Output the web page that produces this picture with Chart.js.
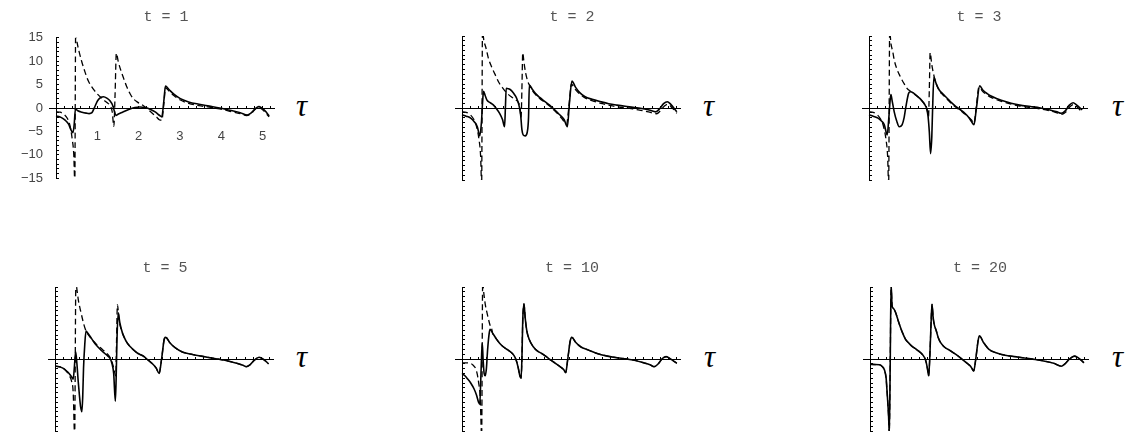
<!DOCTYPE html>
<html>
<head>
<meta charset="utf-8">
<script src="https://cdn.jsdelivr.net/npm/chart.js@4.4.1/dist/chart.umd.min.js"></script>
<style>
  html, body { margin: 0; padding: 0; background: #fff; }
  #wrap { position: relative; width: 1135px; height: 444px; overflow: hidden; }
  #wrap canvas { position: absolute; }
  .ttl { position: absolute; width: 240px; text-align: center; white-space: pre;
         font-family: "Liberation Mono", "DejaVu Sans Mono", monospace; font-size: 15px;
         line-height: 18px; color: #555; }
  .tau { position: absolute; font-family: "Liberation Serif", "DejaVu Serif", serif;
         font-style: italic; font-size: 31px; line-height: 31px; color: #000; }
</style>
</head>
<body>
<div id="wrap"></div>
<script>
// t = 1
const tauS1 = [0, 0.12, 0.22, 0.3, 0.36, 0.41, 0.44, 0.47, 0.53, 0.63, 0.73, 0.8, 0.87, 0.93, 1.01, 1.09, 1.15, 1.23, 1.31, 1.37, 1.41, 1.45, 1.51, 1.61, 1.76, 1.91, 2.03, 2.16, 2.29, 2.41, 2.51, 2.56, 2.61, 2.65, 2.73, 2.86, 3.01, 3.21, 3.46, 3.71, 3.96, 4.21, 4.46, 4.63, 4.73, 4.83, 4.91, 4.98, 5.06, 5.16];
const valS1 = [-1.7, -2.0, -2.6, -3.4, -4.6, -5.3, -3.5, -0.2, -0.6, -0.9, -1.1, -1.2, -1.0, 0.1, 1.6, 2.3, 2.4, 2.1, 1.5, 0.6, -0.6, -1.6, -1.3, -0.9, -0.3, 0.1, 0.2, 0.1, -0.3, -0.9, -1.6, -1.9, 1.5, 4.7, 4.0, 2.9, 2.0, 1.3, 0.8, 0.4, 0.0, -0.5, -1.0, -1.5, -1.0, -0.1, 0.3, 0.0, -0.6, -1.7];
const tauD1 = [0, 0.1, 0.2, 0.28, 0.34, 0.39, 0.43, 0.455, 0.475, 0.51, 0.56, 0.62, 0.69, 0.78, 0.89, 1.01, 1.13, 1.24, 1.31, 1.36, 1.4, 1.43, 1.46, 1.51, 1.57, 1.63, 1.71, 1.79, 1.87, 1.98, 2.1, 2.21, 2.33, 2.43, 2.5, 2.56, 2.61, 2.65, 2.73, 2.86, 3.01, 3.21, 3.46, 3.71, 3.96, 4.21, 4.46, 4.61, 4.71, 4.81, 4.89, 4.96, 5.06, 5.16];
const valD1 = [-0.8, -0.9, -1.4, -2.3, -3.8, -6.5, -10, -16, 16, 14, 12, 10, 8, 5.8, 4.2, 2.9, 1.9, 1.1, 0.5, -0.8, -3.9, 3, 11.7, 9.8, 8.0, 6.5, 4.6, 3.1, 2.0, 1.2, 0.6, -0.2, -1.1, -1.9, -2.5, -2.6, 0.8, 4.3, 3.7, 2.6, 1.7, 1.0, 0.5, 0.2, -0.2, -0.7, -1.2, -1.6, -1.3, -0.4, 0.1, -0.1, -0.9, -1.9];

// t = 2
const tauS2 = [0, 0.1, 0.21, 0.3, 0.37, 0.43, 0.47, 0.5, 0.52, 0.56, 0.6, 0.68, 0.75, 0.83, 0.91, 0.98, 1.03, 1.05, 1.07, 1.12, 1.18, 1.24, 1.3, 1.35, 1.38, 1.42, 1.45, 1.48, 1.53, 1.58, 1.61, 1.63, 1.7, 1.77, 1.88, 2.0, 2.12, 2.23, 2.35, 2.47, 2.55, 2.6, 2.66, 2.75, 2.85, 2.97, 3.15, 3.36, 3.55, 3.75, 3.95, 4.14, 4.35, 4.53, 4.69, 4.78, 4.88, 4.97, 5.05, 5.2];
const valS2 = [-1.4, -1.7, -2.1, -2.9, -3.9, -5.8, -3, 1.5, 3.5, 2.6, 1.7, 1.1, 0.7, -0.1, -1.1, -2.4, -3.9, 0, 4.1, 4.0, 3.75, 3.2, 2.4, 1.4, 0.5, -1.5, -4.5, -5.6, -5.8, -5.0, -2, 4.8, 3.9, 3.1, 2.2, 1.4, 0.6, -0.3, -1.3, -2.4, -3.9, 1, 5.6, 4.3, 3.2, 2.4, 1.8, 1.3, 0.9, 0.6, 0.35, 0.15, -0.1, -0.4, -0.8, -0.2, 0.9, 1.3, 0.8, -0.8];
const tauD2 = [0, 0.1, 0.2, 0.28, 0.35, 0.41, 0.45, 0.475, 0.495, 0.53, 0.58, 0.64, 0.72, 0.8, 0.9, 1.0, 1.1, 1.2, 1.3, 1.36, 1.4, 1.43, 1.45, 1.47, 1.5, 1.54, 1.59, 1.64, 1.7, 1.77, 1.88, 2.0, 2.12, 2.23, 2.35, 2.45, 2.53, 2.59, 2.65, 2.72, 2.85, 3.0, 3.2, 3.4, 3.6, 3.8, 4.0, 4.2, 4.4, 4.6, 4.71, 4.8, 4.9, 4.98, 5.08, 5.2];
const valD2 = [-0.8, -0.9, -1.4, -2.3, -3.8, -6.5, -10, -16, 16, 14, 12.5, 10.3, 8.5, 7.0, 5.2, 4.0, 3.0, 2.3, 1.7, 1.2, 0.3, -2.0, 4, 11.5, 9.5, 7.3, 5.6, 4.6, 3.7, 2.9, 2.0, 1.2, 0.4, -0.5, -1.5, -2.6, -3.4, 0.5, 5.0, 4.1, 2.9, 2.0, 1.4, 0.9, 0.5, 0.2, 0.0, -0.3, -0.6, -1.0, -1.2, -0.6, 0.4, 0.8, 0.1, -1.1];

// t = 3
const tauS3 = [0, 0.1, 0.22, 0.3, 0.37, 0.44, 0.48, 0.51, 0.53, 0.56, 0.61, 0.67, 0.73, 0.8, 0.85, 0.88, 0.92, 0.96, 1.0, 1.08, 1.15, 1.23, 1.3, 1.35, 1.4, 1.43, 1.46, 1.49, 1.52, 1.54, 1.57, 1.62, 1.7, 1.78, 1.85, 1.93, 2.01, 2.09, 2.17, 2.25, 2.32, 2.4, 2.48, 2.54, 2.6, 2.68, 2.76, 2.86, 2.98, 3.2, 3.44, 3.65, 3.91, 4.15, 4.38, 4.55, 4.65, 4.75, 4.85, 4.94, 5.03, 5.16];
const valS3 = [-1.4, -1.7, -2.1, -2.7, -3.5, -5.6, -2, 1.5, 2.8, 1.5, -0.8, -2.7, -3.9, -3.5, -2.0, -0.4, 1.6, 3.1, 3.4, 3.1, 2.6, 2.0, 1.3, 0.7, -0.3, -1.8, -5, -9.5, -6, 0, 6.4, 5.2, 3.75, 3.0, 2.4, 1.7, 1.0, 0.4, -0.1, -0.6, -1.1, -1.8, -2.8, -3.5, 0, 4.6, 3.7, 3.0, 2.4, 1.6, 1.0, 0.6, 0.3, 0, -0.4, -0.8, -1.1, -0.6, 0.6, 1.1, 0.6, -0.4];
const tauD3 = [0, 0.1, 0.2, 0.28, 0.35, 0.41, 0.45, 0.475, 0.5, 0.53, 0.58, 0.61, 0.68, 0.76, 0.84, 0.92, 1.0, 1.08, 1.16, 1.23, 1.3, 1.36, 1.41, 1.44, 1.46, 1.48, 1.52, 1.57, 1.62, 1.7, 1.78, 1.85, 1.93, 2.01, 2.1, 2.17, 2.25, 2.33, 2.41, 2.48, 2.54, 2.6, 2.66, 2.76, 2.86, 2.98, 3.2, 3.44, 3.65, 3.91, 4.15, 4.38, 4.55, 4.67, 4.77, 4.87, 4.95, 5.04, 5.16];
const valD3 = [-0.8, -0.9, -1.4, -2.3, -3.8, -6.5, -10, -16, 16, 13.5, 11.5, 10.0, 8, 6.5, 5.2, 4.1, 3.5, 3.0, 2.5, 2.0, 1.3, 0.6, -0.4, -1.8, 4, 11.5, 9.0, 6.8, 5.2, 3.6, 2.8, 2.2, 1.5, 0.8, 0.2, -0.3, -0.8, -1.3, -1.9, -2.5, -3.2, 0.5, 4.3, 3.4, 2.7, 2.1, 1.4, 0.8, 0.4, 0.1, -0.2, -0.6, -1.0, -1.3, -0.8, 0.3, 0.7, 0.2, -0.9];

// t = 5
const tauS4 = [0, 0.1, 0.19, 0.28, 0.34, 0.4, 0.44, 0.47, 0.5, 0.53, 0.56, 0.59, 0.62, 0.65, 0.67, 0.69, 0.72, 0.75, 0.8, 0.89, 0.96, 1.04, 1.12, 1.2, 1.28, 1.34, 1.38, 1.42, 1.46, 1.48, 1.5, 1.53, 1.57, 1.62, 1.67, 1.75, 1.83, 1.9, 2.0, 2.14, 2.25, 2.37, 2.45, 2.52, 2.58, 2.65, 2.68, 2.78, 2.9, 3.07, 3.3, 3.54, 3.8, 4.0, 4.16, 4.4, 4.55, 4.63, 4.72, 4.82, 4.94, 5.05, 5.17];
const valS4 = [-1.5, -1.6, -1.9, -2.5, -3.0, -3.7, -4.2, -1.5, 1.5, -1.0, -4.5, -7.5, -10, -11, -8, -2, 3, 5.8, 5.3, 4.2, 3.3, 2.5, 1.8, 1.2, 0.6, 0, -1.0, -3, -8.8, -4, 4, 9.6, 7.5, 5.8, 4.6, 3.3, 2.5, 1.9, 1.2, 0.6, -0.2, -1.1, -1.9, -3.0, 0, 4.3, 4.5, 3.4, 2.4, 1.5, 1.0, 0.6, 0.2, -0.1, -0.35, -0.9, -1.3, -1.6, -1.2, -0.3, 0.35, -0.1, -1.0];
const tauD4 = [0, 0.1, 0.19, 0.28, 0.34, 0.4, 0.44, 0.475, 0.505, 0.53, 0.57, 0.62, 0.68, 0.73, 0.8, 0.9, 1.0, 1.08, 1.16, 1.24, 1.32, 1.38, 1.43, 1.47, 1.49, 1.51, 1.55, 1.6, 1.67];
const valD4 = [-1.5, -1.6, -1.9, -2.6, -3.4, -4.6, -7, -16, 16, 14.5, 12, 10, 7.8, 6.3, 5.1, 4.0, 3.1, 2.5, 1.9, 1.3, 0.5, -0.6, -2.2, -3.5, 4, 11.3, 8.2, 6.2, 4.6];

// t = 10
const tauS5 = [0, 0.07, 0.13, 0.21, 0.29, 0.35, 0.4, 0.43, 0.455, 0.475, 0.49, 0.51, 0.535, 0.56, 0.59, 0.62, 0.66, 0.68, 0.74, 0.83, 0.91, 0.99, 1.07, 1.14, 1.2, 1.26, 1.31, 1.36, 1.4, 1.43, 1.45, 1.47, 1.5, 1.53, 1.57, 1.63, 1.73, 1.82, 1.92, 2.04, 2.16, 2.28, 2.39, 2.46, 2.51, 2.56, 2.62, 2.66, 2.75, 2.88, 3.05, 3.25, 3.52, 3.8, 4.14, 4.4, 4.55, 4.65, 4.75, 4.85, 4.94, 5.05, 5.2];
const valS5 = [-3.0, -3.5, -4.1, -5.0, -6.2, -7.5, -9.0, -9.4, -4, 1, 3.3, 0, -3.0, -3.5, -2, 2, 5.5, 6.2, 5.4, 4.2, 3.3, 2.6, 2.1, 1.7, 1.3, 0.7, -0.2, -1.8, -3.5, -4.0, 0, 8, 11.5, 8.5, 5.8, 4.0, 2.5, 1.7, 1.2, 0.5, -0.3, -1.0, -1.7, -2.2, -2.85, 0, 3.8, 4.5, 3.5, 2.5, 1.9, 1.2, 0.6, 0.2, -0.2, -0.8, -1.2, -1.6, -1.0, 0.1, 0.5, 0, -0.9];
const tauD5 = [0, 0.1, 0.2, 0.27, 0.33, 0.37, 0.4, 0.44, 0.475, 0.5, 0.53, 0.57, 0.6, 0.64, 0.68, 0.72];
const valD5 = [-0.8, -0.8, -0.9, -1.3, -2.0, -3.2, -4.8, -8, -16, 16, 13.5, 11, 9.8, 8.3, 7.0, 6.2];

// t = 20 (both curves coincide)
const tauS6 = [0, 0.1, 0.23, 0.3, 0.35, 0.39, 0.405, 0.43, 0.45, 0.467, 0.49, 0.51, 0.535, 0.56, 0.61, 0.7, 0.78, 0.86, 0.94, 1.01, 1.09, 1.17, 1.24, 1.29, 1.33, 1.36, 1.39, 1.42, 1.45, 1.48, 1.5, 1.53, 1.56, 1.6, 1.65, 1.71, 1.8, 1.95, 2.07, 2.18, 2.28, 2.38, 2.45, 2.51, 2.56, 2.62, 2.65, 2.75, 2.88, 3.05, 3.27, 3.5, 3.74, 4.0, 4.2, 4.45, 4.63, 4.72, 4.83, 4.95, 5.05, 5.18];
const valS6 = [-1.1, -1.15, -1.2, -1.6, -2.3, -4, -5.8, -9, -12, -15.5, 0, 15.5, 11, 10.6, 9.9, 7.5, 5.6, 4.1, 3.3, 2.7, 2.2, 1.7, 1.2, 0.7, 0.1, -0.7, -2, -3.5, 1, 8, 11.4, 8.5, 7, 6, 4.5, 3.4, 2.5, 1.7, 1.0, 0.3, -0.4, -1.1, -1.7, -2.5, 0, 4.0, 4.8, 3.4, 2.0, 1.3, 0.8, 0.5, 0.2, -0.1, -0.4, -0.9, -1.5, -1.0, 0, 0.6, 0.2, -0.8];

const titles = ['t = 1', 't = 2', 't = 3', 't = 5', 't = 10', 't = 20'];
const xTickLabels = [1, 2, 3, 4, 5];
const yTickLabels = [-15, -10, -5, 0, 5, 10, 15];

// --- layout of the six panels ---
const UNIT = 42.9;            // pixels per unit of tau
const X_MIN = -0.17;
const AREA_W = 234, AREA_H = 144;
const X_MAX = X_MIN + AREA_W / UNIT;
const PAD = { left: 50, right: 12, top: 12, bottom: 12 };
const LABEL_BAND = 44;        // width kept for the value labels on the left

const toPoints = (xs, ys) => xs.map((x, i) => ({ x, y: ys[i] }));
// dashed curve follows the solid one once the two merge
const withTail = (tHead, vHead, tSolid, vSolid) => {
  const last = tHead[tHead.length - 1];
  const xs = tHead.slice(), ys = vHead.slice();
  tSolid.forEach((t, i) => { if (t > last + 0.01) { xs.push(t); ys.push(vSolid[i]); } });
  return [xs, ys];
};

const panels = [
  { s: [tauS1, valS1], d: [tauD1, valD1], left: 49, top: 36, tauX: 296, labels: true },
  { s: [tauS2, valS2], d: [tauD2, valD2], left: 455, top: 36, tauX: 703 },
  { s: [tauS3, valS3], d: [tauD3, valD3], left: 862, top: 36, tauX: 1112 },
  { s: [tauS4, valS4], d: withTail(tauD4, valD4, tauS4, valS4), left: 48, top: 287, tauX: 296 },
  { s: [tauS5, valS5], d: withTail(tauD5, valD5, tauS5, valS5), left: 455, top: 287, tauX: 704 },
  { s: [tauS6, valS6], d: [tauS6, valS6], left: 863, top: 287, tauX: 1112 }
];

const wrap = document.getElementById('wrap');
const nearInt = v => Math.abs(v - Math.round(v)) < 1e-6;
const tickFont = { family: '"Liberation Sans", Arial, sans-serif', size: 13 };
const axisGrid = { drawOnChartArea: false, drawTicks: true, tickLength: -3, color: '#000' };
const axisBorder = { display: true, color: '#000', width: 1 };

panels.forEach((p, k) => {
  const canvas = document.createElement('canvas');
  canvas.width = AREA_W + PAD.left + PAD.right;
  canvas.height = AREA_H + PAD.top + PAD.bottom;
  canvas.style.left = (p.left - PAD.left) + 'px';
  canvas.style.top = (p.top - PAD.top) + 'px';
  wrap.appendChild(canvas);

  const title = document.createElement('div');
  title.className = 'ttl';
  title.textContent = titles[k];
  title.style.left = (p.left + AREA_W / 2 - 120) + 'px';
  title.style.top = (p.top - 27) + 'px';
  wrap.appendChild(title);

  const tau = document.createElement('div');
  tau.className = 'tau';
  tau.textContent = 'τ';
  tau.style.left = p.tauX + 'px';
  tau.style.top = (p.top + AREA_H / 2 - 18) + 'px';
  wrap.appendChild(tau);

  const scales = {
    x: {
      type: 'linear', min: X_MIN, max: X_MAX, position: { y: 0 },
      grid: axisGrid, border: axisBorder,
      ticks: {
        stepSize: 0.2, autoSkip: false, includeBounds: false, maxRotation: 0,
        padding: 24, font: tickFont, color: '#444',
        callback: v => (p.labels && nearInt(v) && xTickLabels.includes(Math.round(v))) ? String(Math.round(v)) : ''
      }
    },
    y: {
      type: 'linear', min: -15, max: 15, position: { x: 0 },
      grid: axisGrid, border: axisBorder,
      ticks: { stepSize: 1, autoSkip: false, includeBounds: false, callback: () => '' }
    }
  };
  if (p.labels) {
    // value labels for the vertical axis, set off to the left of it
    scales.yLabels = {
      type: 'linear', axis: 'y', position: 'left', min: -15, max: 15,
      grid: { display: false, drawTicks: false }, border: { display: false },
      afterFit: s => { s.width = LABEL_BAND; },
      ticks: {
        stepSize: 5, autoSkip: false, padding: 6, font: tickFont, color: '#444',
        callback: v => yTickLabels.includes(Math.round(v)) ? String(Math.round(v)).replace('-', '\u2212') : ''
      }
    };
  }

  new Chart(canvas, {
    type: 'line',
    data: {
      datasets: [
        { data: toPoints(p.s[0], p.s[1]), borderColor: '#000', borderWidth: 1.6,
          pointRadius: 0, cubicInterpolationMode: 'monotone', fill: false },
        { data: toPoints(p.d[0], p.d[1]), borderColor: '#000', borderWidth: 1.3,
          borderDash: [6, 3.5], pointRadius: 0, cubicInterpolationMode: 'monotone', fill: false }
      ]
    },
    options: {
      responsive: false,
      animation: false,
      events: [],
      layout: { padding: p.labels ? { ...PAD, left: PAD.left - LABEL_BAND } : PAD },
      plugins: { legend: { display: false }, tooltip: { enabled: false }, title: { display: false } },
      scales
    }
  });
});
</script>
</body>
</html>
